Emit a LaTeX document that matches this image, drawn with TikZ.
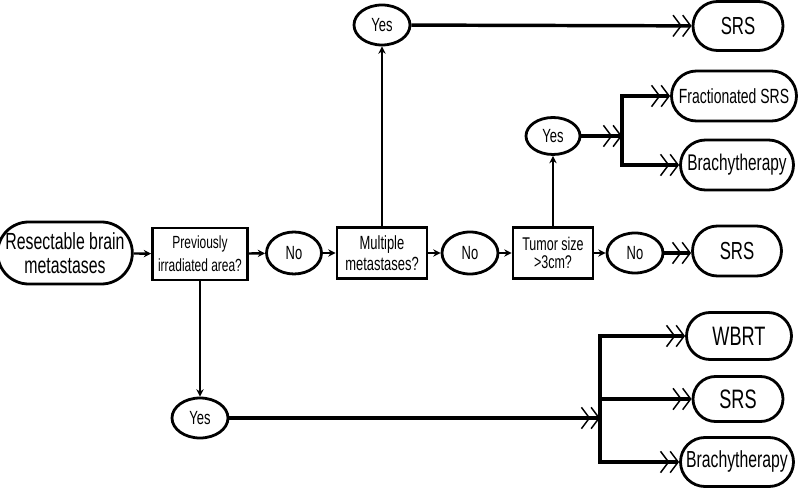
\documentclass[tikz,border=0pt]{standalone}
\usepackage{fontspec}
\setmainfont[FakeStretch=0.68]{Liberation Sans}
\usetikzlibrary{shapes.geometric,shapes.misc,arrows.meta}
\begin{document}
\begin{tikzpicture}[x=0.75pt,y=-0.75pt,
  base/.style={draw=black,line width=2.1pt,inner sep=0pt,align=center},
  decbox/.style={base,rectangle},
  oval/.style={base,ellipse},
  endbox/.style={base,rounded rectangle},
  small/.style={line width=1.8pt,-{Stealth[length=5.5pt,width=5.5pt]}},
  thin/.style={line width=1.4pt,-{Stealth[length=5.5pt,width=5.5pt]}},
  thick/.style={line width=2.6pt},
  dbl/.style={line width=2.6pt,-{Straight Barb[length=6pt,width=16pt,line width=1.1pt]Straight Barb[length=6pt,width=16pt,line width=1.1pt]}}
]
\path[use as bounding box,fill=white] (0,0) rectangle (800,488);

% main row
\node[endbox,minimum width=94.5pt,minimum height=46.5pt,font=\fontsize{17.5}{18}\selectfont] (res) at (65,253) {Resectable brain\\metastases};
\node[decbox,minimum width=71.25pt,minimum height=39pt,font=\fontsize{13.2}{17}\selectfont] (prev) at (200,254) {Previously\\irradiated area?};
\node[oval,minimum width=41.25pt,minimum height=31.5pt,font=\fontsize{14.3}{15}\selectfont] (no1) at (294,253) {No};
\node[decbox,minimum width=67.5pt,minimum height=38.25pt,font=\fontsize{14.3}{15.5}\selectfont] (mult) at (382,253) {Multiple\\metastases?};
\node[oval,minimum width=42pt,minimum height=31.5pt,font=\fontsize{14.3}{15}\selectfont] (no2) at (470,253) {No};
\node[decbox,minimum width=60pt,minimum height=38.25pt,font=\fontsize{13.8}{14}\selectfont] (tumor) at (553,253) {Tumor size\\>3cm?};
\node[oval,minimum width=42pt,minimum height=30pt,font=\fontsize{14.3}{15}\selectfont] (no3) at (635,253) {No};
\node[endbox,minimum width=66.75pt,minimum height=37.5pt,font=\fontsize{18.5}{19}\selectfont] (srs2) at (737,251) {SRS};

% top branch
\node[oval,minimum width=42pt,minimum height=30pt,font=\fontsize{14.3}{15}\selectfont] (yes1) at (382,25) {Yes};
\node[endbox,minimum width=67.5pt,minimum height=36.75pt,font=\fontsize{18.5}{19}\selectfont] (srs1) at (738,26) {SRS};

% tumor yes branch
\node[oval,minimum width=40.5pt,minimum height=27.75pt,font=\fontsize{14.3}{15}\selectfont] (yes2) at (553,136) {Yes};
\node[endbox,minimum width=93.75pt,minimum height=37.5pt,font=\fontsize{15.4}{16}\selectfont] (frac) at (734,96) {Fractionated SRS};
\node[endbox,minimum width=84.75pt,minimum height=37.5pt,font=\fontsize{17}{17}\selectfont] (brachy1) at (737,165) {Brachytherapy};

% bottom branch
\node[oval,minimum width=42pt,minimum height=30pt,font=\fontsize{14.3}{15}\selectfont] (yes3) at (200,418) {Yes};
\node[endbox,minimum width=78.75pt,minimum height=35.25pt,font=\fontsize{20}{20}\selectfont] (wbrt) at (739,336) {WBRT};
\node[endbox,minimum width=67.5pt,minimum height=33.75pt,font=\fontsize{20}{20}\selectfont] (srs3) at (738,399) {SRS};
\node[endbox,minimum width=84.75pt,minimum height=36.75pt,font=\fontsize{17.4}{17}\selectfont] (brachy2) at (737,462) {Brachytherapy};

\coordinate (j1) at (622,136);
\coordinate (j2) at (600,418);

% main row arrows
\draw[small] (res) -- (prev);
\draw[small] (prev) -- (no1);
\draw[small] (no1) -- (mult);
\draw[small] (mult) -- (no2);
\draw[small] (no2) -- (tumor);
\draw[small] (tumor) -- (no3);
\draw[dbl] (no3.east) -- (no3.east -| srs2.west);

% verticals
\draw[small] (mult) -- (yes1);
\draw[dbl] (yes1) -- (srs1);
\draw[small] (tumor) -- (yes2);
\draw[thin] (prev) -- (yes3);

% tumor yes fan
\draw[dbl] (yes2) -- (j1);
\draw[thick] ([yshift=1.3pt]j1 |- frac) -- ([yshift=-1.3pt]j1 |- brachy1);
\draw[dbl] (j1 |- frac) -- (frac);
\draw[dbl] (j1 |- brachy1) -- (brachy1);

% bottom fan
\draw[dbl] (yes3) -- (j2);
\draw[thick] ([yshift=1.3pt]j2 |- wbrt) -- ([yshift=-1.3pt]j2 |- brachy2);
\draw[dbl] (j2 |- wbrt) -- (wbrt);
\draw[dbl] (j2 |- srs3) -- (srs3);
\draw[dbl] (j2 |- brachy2) -- (brachy2);
\end{tikzpicture}
\end{document}
